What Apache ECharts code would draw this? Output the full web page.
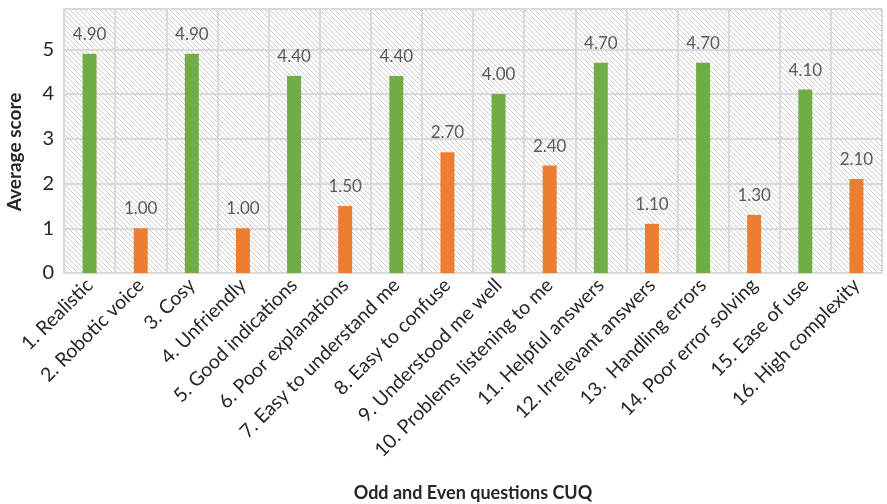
<!DOCTYPE html>
<html><head><meta charset="utf-8">
<script src="https://cdn.jsdelivr.net/npm/echarts@6/dist/echarts.min.js"></script>
<style>html,body{margin:0;padding:0;background:#fff}#c{width:887px;height:504px}</style>
</head><body><div id="c"></div>
<script>
const categories = ["1. Realistic","2. Robotic voice","3. Cosy","4. Unfriendly","5. Good indications","6. Poor explanations","7. Easy to understand me","8. Easy to confuse","9. Understood me well","10. Problems listening to me","11. Helpful answers","12. Irrelevant answers","13.  Handling errors","14. Poor error solving","15. Ease of use","16. High complexity"];
const scores = [4.9,1.0,4.9,1.0,4.4,1.5,4.4,2.7,4.0,2.4,4.7,1.1,4.7,1.3,4.1,2.1];
const yTicks = [0,1,2,3,4,5];
const oddColor = '#70ad47', evenColor = '#ed7d31';

const pc = document.createElement('canvas');
pc.width = 5; pc.height = 5;
const ctx = pc.getContext('2d');
ctx.fillStyle = '#ffffff'; ctx.fillRect(0,0,5,5);
ctx.strokeStyle = '#cccccc'; ctx.lineWidth = 1;
for (const o of [-5,0,5]) { ctx.beginPath(); ctx.moveTo(o-1,-1); ctx.lineTo(o+6,6); ctx.stroke(); }

const font = 'Lato, "Liberation Sans", sans-serif';
const chart = echarts.init(document.getElementById('c'));
chart.setOption({
  animation: false,
  textStyle: {fontFamily: font},
  grid: {left: 64, right: 5, top: 9, bottom: 231, show: true, borderWidth: 0,
         containLabel: false, outerBoundsMode: 'none',
         backgroundColor: {image: pc, repeat: 'repeat'}},
  xAxis: {
    type: 'category', data: categories,
    name: 'Odd and Even questions CUQ', nameLocation: 'middle', nameGap: 211,
    nameTextStyle: {fontFamily: font, fontWeight: 'bold', fontSize: 18, color: '#262626'},
    axisLine: {show: true, lineStyle: {color: '#d9d9d9', width: 2}},
    axisTick: {show: false},
    splitLine: {show: true, lineStyle: {color: '#d9d9d9', width: 2}},
    axisLabel: {rotate: 45, interval: 0, fontSize: 19.5, color: '#262626', margin: 9, fontFamily: font}
  },
  yAxis: {
    type: 'value', min: 0, max: 5.9, interval: 1,
    name: 'Average score', nameLocation: 'middle', nameGap: 40, nameRotate: 90,
    nameTextStyle: {fontFamily: font, fontWeight: 'bold', fontSize: 19, color: '#262626', padding: [0, 22, 0, 0]},
    axisLine: {show: false}, axisTick: {show: false},
    splitLine: {show: true, lineStyle: {color: '#d9d9d9', width: 2}},
    axisLabel: {fontSize: 20, color: '#262626', margin: 10, showMaxLabel: false, fontFamily: font,
      formatter: v => yTicks.includes(v) ? String(v) : ''}
  },
  series: [{
    type: 'bar', data: scores, barWidth: 14,
    itemStyle: {color: p => p.dataIndex % 2 === 0 ? oddColor : evenColor},
    label: {show: true, position: 'top', distance: 11, fontSize: 17, color: '#595959', fontFamily: font,
      formatter: p => p.value.toFixed(2)}
  }]
});
</script></body></html>
